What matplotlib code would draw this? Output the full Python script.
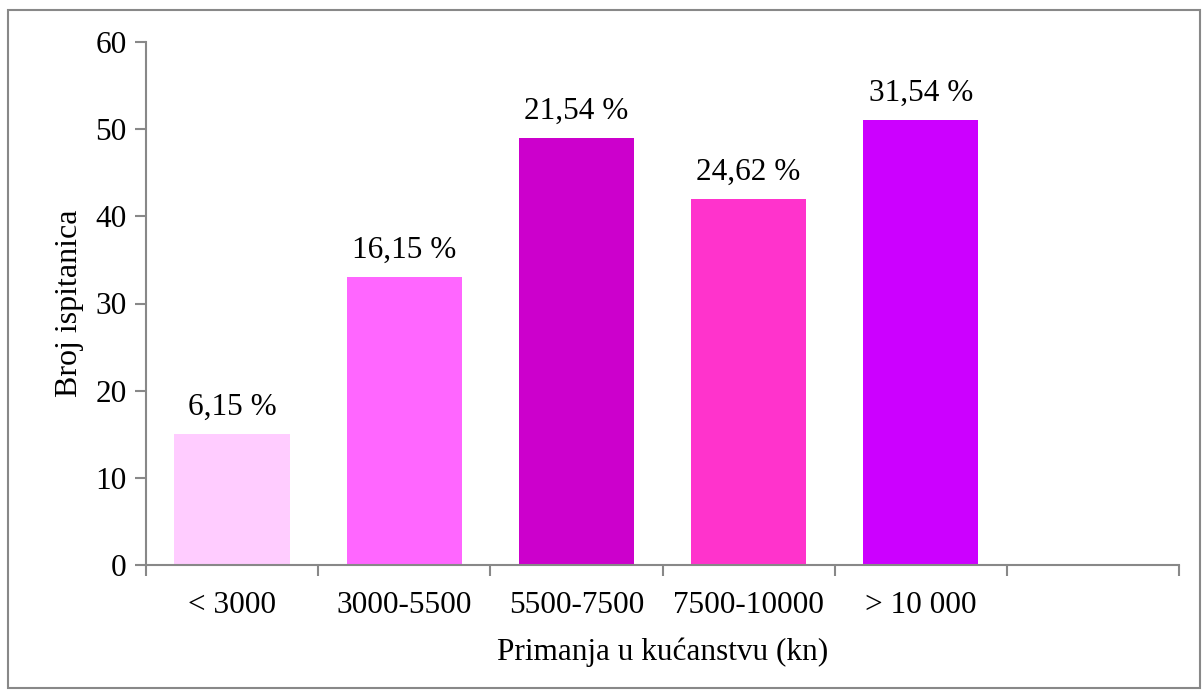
import matplotlib
matplotlib.use("Agg")
import matplotlib.pyplot as plt
from matplotlib.patches import Rectangle

categories = ["< 3000", "3000-5500", "5500-7500", "7500-10000", "> 10 000"]
values = [15, 33, 49, 42, 51]
pct_labels = ["6,15 %", "16,15 %", "21,54 %", "24,62 %", "31,54 %"]
colors = ["#FFCCFF", "#FF66FF", "#CC00CC", "#FF33CC", "#CC00FF"]

plt.rcParams['font.family'] = ['Liberation Serif', 'DejaVu Serif']
FS = 22.5

W, H = 1203, 691
fig = plt.figure(figsize=(W/100, H/100), dpi=100)
ax = fig.add_axes([146/W, 1-565/H, (1179-146)/W, (565-42)/H])

x = list(range(len(categories)))
bars = ax.bar(x, values, width=0.67, color=colors, zorder=2)
for b, lab in zip(bars, pct_labels):
    ax.annotate(lab, (b.get_x()+b.get_width()/2, b.get_height()),
                xytext=(0, 9), textcoords="offset points",
                ha="center", va="bottom", fontsize=FS)

ax.set_xlim(-0.5, 5.5)
ax.set_ylim(0, 60)
ax.set_yticks(range(0, 61, 10))
ax.set_xticks([i + 0.5 for i in range(-1, 6)])
ax.set_xticklabels([])
ax.set_xticks(x, minor=True)
ax.set_xticklabels(categories, minor=True)
ax.tick_params(axis='x', which='minor', length=0, pad=19, labelsize=FS)
ax.tick_params(axis='x', which='major', length=8, width=1.5, color="#888888", direction='out')
ax.tick_params(axis='y', length=8, width=1.5, color="#888888", labelsize=FS, pad=6)

for s in ["top", "right"]:
    ax.spines[s].set_visible(False)
for s in ["left", "bottom"]:
    ax.spines[s].set_color("#888888")
    ax.spines[s].set_linewidth(1.5)

ax.set_xlabel("Primanja u kućanstvu (kn)", fontsize=FS, labelpad=12)
ax.set_ylabel("Broj ispitanica", fontsize=23, labelpad=8)

fig.patches.append(Rectangle((8/W, 1-688/H), (1200-8)/W, (688-10)/H,
                             transform=fig.transFigure, fill=False,
                             edgecolor="#888888", linewidth=1.5))

fig.savefig("out.png", dpi=100)
